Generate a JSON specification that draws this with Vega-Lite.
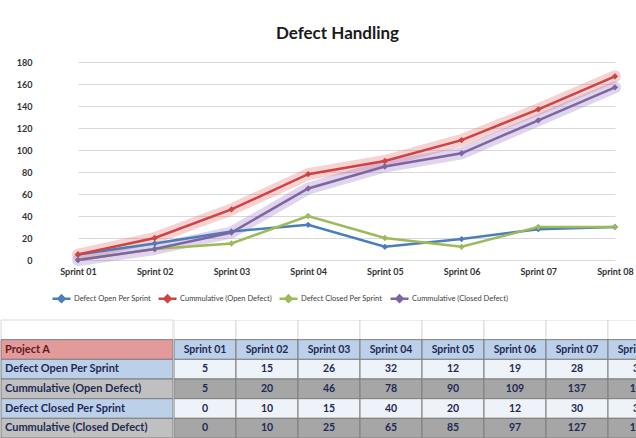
{
  "$schema": "https://vega.github.io/schema/vega-lite/v6.json",
  "padding": {"left": 0, "top": 25, "right": 0, "bottom": 0},
  "background": "white",
  "columns": 1,
  "align": "none",
  "spacing": 12,
  "config": {"view": {"stroke": null}, "font": "Lato"},
  "resolve": {"scale": {"x": "independent", "y": "independent", "color": "independent", "fill": "independent"}},
  "data": {"values": [
    {"sprint": "Sprint 01", "series": "Defect Open Per Sprint", "value": 5},
    {"sprint": "Sprint 02", "series": "Defect Open Per Sprint", "value": 15},
    {"sprint": "Sprint 03", "series": "Defect Open Per Sprint", "value": 26},
    {"sprint": "Sprint 04", "series": "Defect Open Per Sprint", "value": 32},
    {"sprint": "Sprint 05", "series": "Defect Open Per Sprint", "value": 12},
    {"sprint": "Sprint 06", "series": "Defect Open Per Sprint", "value": 19},
    {"sprint": "Sprint 07", "series": "Defect Open Per Sprint", "value": 28},
    {"sprint": "Sprint 08", "series": "Defect Open Per Sprint", "value": 30},
    {"sprint": "Sprint 01", "series": "Cummulative (Open Defect)", "value": 5},
    {"sprint": "Sprint 02", "series": "Cummulative (Open Defect)", "value": 20},
    {"sprint": "Sprint 03", "series": "Cummulative (Open Defect)", "value": 46},
    {"sprint": "Sprint 04", "series": "Cummulative (Open Defect)", "value": 78},
    {"sprint": "Sprint 05", "series": "Cummulative (Open Defect)", "value": 90},
    {"sprint": "Sprint 06", "series": "Cummulative (Open Defect)", "value": 109},
    {"sprint": "Sprint 07", "series": "Cummulative (Open Defect)", "value": 137},
    {"sprint": "Sprint 08", "series": "Cummulative (Open Defect)", "value": 167},
    {"sprint": "Sprint 01", "series": "Defect Closed Per Sprint", "value": 0},
    {"sprint": "Sprint 02", "series": "Defect Closed Per Sprint", "value": 10},
    {"sprint": "Sprint 03", "series": "Defect Closed Per Sprint", "value": 15},
    {"sprint": "Sprint 04", "series": "Defect Closed Per Sprint", "value": 40},
    {"sprint": "Sprint 05", "series": "Defect Closed Per Sprint", "value": 20},
    {"sprint": "Sprint 06", "series": "Defect Closed Per Sprint", "value": 12},
    {"sprint": "Sprint 07", "series": "Defect Closed Per Sprint", "value": 30},
    {"sprint": "Sprint 08", "series": "Defect Closed Per Sprint", "value": 30},
    {"sprint": "Sprint 01", "series": "Cummulative (Closed Defect)", "value": 0},
    {"sprint": "Sprint 02", "series": "Cummulative (Closed Defect)", "value": 10},
    {"sprint": "Sprint 03", "series": "Cummulative (Closed Defect)", "value": 25},
    {"sprint": "Sprint 04", "series": "Cummulative (Closed Defect)", "value": 65},
    {"sprint": "Sprint 05", "series": "Cummulative (Closed Defect)", "value": 85},
    {"sprint": "Sprint 06", "series": "Cummulative (Closed Defect)", "value": 97},
    {"sprint": "Sprint 07", "series": "Cummulative (Closed Defect)", "value": 127},
    {"sprint": "Sprint 08", "series": "Cummulative (Closed Defect)", "value": 157}
  ]},
  "concat": [
    {
      "width": 593,
      "height": 198,
      "title": {"text": "Defect Handling", "font": "Lato", "fontSize": 17, "fontWeight": "bold", "color": "#1a1a1a", "offset": 15, "anchor": "middle"},
      "encoding": {
        "x": {"field": "sprint", "type": "ordinal", "scale": {"type": "point", "range": [37, 574], "padding": 0},
              "axis": {"domain": false, "ticks": false, "grid": false, "labelFont": "Lato", "labelFontWeight": "bold", "labelFontSize": 9, "labelColor": "#333333", "labelPadding": 7, "labelAngle": 0, "title": null}},
        "y": {"field": "value", "type": "quantitative", "scale": {"domain": [0, 180]},
              "axis": {"values": [0, 20, 40, 60, 80, 100, 120, 140, 160, 180], "grid": true, "gridColor": "#d9d9d9", "domain": false, "ticks": false, "labelFont": "Lato", "labelFontWeight": "bold", "labelFontSize": 9, "labelColor": "#333333", "labelPadding": 9, "title": null, "minExtent": 40, "maxExtent": 40}}
      },
      "layer": [
        {"transform": [{"filter": "datum.series === 'Cummulative (Open Defect)'"}],
         "mark": {"type": "line", "color": "#e06a6a", "strokeWidth": 12, "opacity": 0.3, "strokeCap": "round", "strokeJoin": "round"}},
        {"transform": [{"filter": "datum.series === 'Cummulative (Closed Defect)'"}],
         "mark": {"type": "line", "color": "#9a7cc8", "strokeWidth": 12, "opacity": 0.32, "strokeCap": "round", "strokeJoin": "round"}},
        {"mark": {"type": "line", "strokeWidth": 2.5, "point": {"shape": "diamond", "size": 40, "filled": true}},
         "encoding": {"color": {"field": "series", "type": "nominal",
            "scale": {"domain": ["Defect Open Per Sprint", "Cummulative (Open Defect)", "Defect Closed Per Sprint", "Cummulative (Closed Defect)"],
                      "range": ["#4a7ebb", "#cc4444", "#9bbb59", "#8064a2"]},
            "legend": {"orient": "none", "legendX": 10, "legendY": 226, "direction": "horizontal", "title": null, "padding": 0,
                       "symbolType": "M-1,0L1,0M0,-0.35L0.35,0L0,0.35L-0.35,0Z", "symbolSize": 324, "symbolStrokeWidth": 2.5,
                       "labelFont": "Lato", "labelFontSize": 7.5, "labelColor": "#404040", "columnPadding": 2, "labelOffset": 2,
                       "encode": {"symbols": {"update": {"fill": {"scale": "color", "field": "value"}}}}}}}}
      ]
    },
    {
      "spacing": 0,
      "resolve": {"scale": {"x": "independent", "y": "independent", "fill": "independent"}},
      "hconcat": [
        {
          "width": 132,
          "height": 118,
          "layer": [
            {"transform": [{"filter": "datum.sprint === 'Sprint 01' && datum.series === 'Defect Open Per Sprint'"}],
             "mark": {"type": "rect", "fill": "white", "stroke": "#d9d9d9", "strokeWidth": 1},
             "encoding": {
               "x": {"datum": 0, "type": "quantitative", "scale": {"domain": [0, 1], "range": [-40, 132]}, "axis": null},
               "x2": {"datum": 1},
               "y": {"datum": "blank", "type": "nominal", "scale": {"domain": ["blank", "Project A", "Defect Open Per Sprint", "Cummulative (Open Defect)", "Defect Closed Per Sprint", "Cummulative (Closed Defect)"], "paddingInner": 0, "paddingOuter": 0}, "axis": null}}},
            {"transform": [{"filter": "datum.sprint === 'Sprint 01' && datum.series === 'Defect Open Per Sprint'"}],
             "mark": {"type": "rect", "fill": "#e39a9b", "stroke": "#7f7f7f", "strokeWidth": 1},
             "encoding": {
               "x": {"datum": 0, "type": "quantitative", "scale": {"domain": [0, 1], "range": [-40, 132]}, "axis": null},
               "x2": {"datum": 1},
               "y": {"datum": "Project A", "type": "nominal", "scale": {"domain": ["blank", "Project A", "Defect Open Per Sprint", "Cummulative (Open Defect)", "Defect Closed Per Sprint", "Cummulative (Closed Defect)"], "paddingInner": 0, "paddingOuter": 0}, "axis": null}}},
            {"transform": [{"filter": "datum.sprint === 'Sprint 01' && datum.series === 'Defect Open Per Sprint'"}],
             "mark": {"type": "text", "align": "left", "dx": 4, "font": "Lato", "fontWeight": "bold", "fontSize": 11, "color": "#5a1c1c", "text": "Project A"},
             "encoding": {
               "x": {"datum": 0, "type": "quantitative", "scale": {"domain": [0, 1], "range": [-40, 132]}, "axis": null},
               "y": {"datum": "Project A", "type": "nominal", "scale": {"domain": ["blank", "Project A", "Defect Open Per Sprint", "Cummulative (Open Defect)", "Defect Closed Per Sprint", "Cummulative (Closed Defect)"], "paddingInner": 0, "paddingOuter": 0}, "axis": null}}},
            {"transform": [{"filter": "datum.sprint === 'Sprint 01'"}],
             "mark": {"type": "rect", "stroke": "#7f7f7f", "strokeWidth": 1},
             "encoding": {
               "x": {"datum": 0, "type": "quantitative", "scale": {"domain": [0, 1], "range": [-40, 132]}, "axis": null},
               "x2": {"datum": 1},
               "y": {"field": "series", "type": "nominal", "scale": {"domain": ["blank", "Project A", "Defect Open Per Sprint", "Cummulative (Open Defect)", "Defect Closed Per Sprint", "Cummulative (Closed Defect)"], "paddingInner": 0, "paddingOuter": 0}, "axis": null},
               "fill": {"field": "series", "type": "nominal", "scale": {"domain": ["Defect Open Per Sprint", "Cummulative (Open Defect)", "Defect Closed Per Sprint", "Cummulative (Closed Defect)"], "range": ["#bdd0ea", "#c0c0c0", "#bdd0ea", "#c0c0c0"]}, "legend": null}}},
            {"transform": [{"filter": "datum.sprint === 'Sprint 01'"}],
             "mark": {"type": "text", "align": "left", "dx": 4, "font": "Lato", "fontWeight": "bold", "fontSize": 11, "color": "#1f2a55"},
             "encoding": {
               "x": {"datum": 0, "type": "quantitative", "scale": {"domain": [0, 1], "range": [-40, 132]}, "axis": null},
               "y": {"field": "series", "type": "nominal", "scale": {"domain": ["blank", "Project A", "Defect Open Per Sprint", "Cummulative (Open Defect)", "Defect Closed Per Sprint", "Cummulative (Closed Defect)"], "paddingInner": 0, "paddingOuter": 0}, "axis": null},
               "text": {"field": "series"}}}
          ]
        },
        {
          "width": 464,
          "height": 118,
          "layer": [
            {"transform": [{"filter": "datum.series === 'Defect Open Per Sprint'"}],
             "mark": {"type": "rect", "fill": "white", "stroke": "#d9d9d9", "strokeWidth": 1, "clip": true},
             "encoding": {
               "x": {"field": "sprint", "type": "ordinal", "scale": {"type": "band", "range": [0, 496], "paddingInner": 0, "paddingOuter": 0}, "axis": null},
               "y": {"datum": "blank", "type": "nominal", "scale": {"domain": ["blank", "Project A", "Defect Open Per Sprint", "Cummulative (Open Defect)", "Defect Closed Per Sprint", "Cummulative (Closed Defect)"], "paddingInner": 0, "paddingOuter": 0}, "axis": null}}},
            {"transform": [{"filter": "datum.series === 'Defect Open Per Sprint'"}],
             "mark": {"type": "rect", "fill": "#bdd0ea", "stroke": "#7f7f7f", "strokeWidth": 1, "clip": true},
             "encoding": {
               "x": {"field": "sprint", "type": "ordinal", "scale": {"type": "band", "range": [0, 496], "paddingInner": 0, "paddingOuter": 0}, "axis": null},
               "y": {"datum": "Project A", "type": "nominal", "scale": {"domain": ["blank", "Project A", "Defect Open Per Sprint", "Cummulative (Open Defect)", "Defect Closed Per Sprint", "Cummulative (Closed Defect)"], "paddingInner": 0, "paddingOuter": 0}, "axis": null}}},
            {"transform": [{"filter": "datum.series === 'Defect Open Per Sprint'"}],
             "mark": {"type": "text", "font": "Lato", "fontWeight": "bold", "fontSize": 10.5, "color": "#1f2a55", "clip": true},
             "encoding": {
               "x": {"field": "sprint", "type": "ordinal", "scale": {"type": "band", "range": [0, 496], "paddingInner": 0, "paddingOuter": 0}, "axis": null},
               "y": {"datum": "Project A", "type": "nominal", "scale": {"domain": ["blank", "Project A", "Defect Open Per Sprint", "Cummulative (Open Defect)", "Defect Closed Per Sprint", "Cummulative (Closed Defect)"], "paddingInner": 0, "paddingOuter": 0}, "axis": null},
               "text": {"field": "sprint"}}},
            {"mark": {"type": "rect", "stroke": "#7f7f7f", "strokeWidth": 1, "clip": true},
             "encoding": {
               "x": {"field": "sprint", "type": "ordinal", "scale": {"type": "band", "range": [0, 496], "paddingInner": 0, "paddingOuter": 0}, "axis": null},
               "y": {"field": "series", "type": "nominal", "scale": {"domain": ["blank", "Project A", "Defect Open Per Sprint", "Cummulative (Open Defect)", "Defect Closed Per Sprint", "Cummulative (Closed Defect)"], "paddingInner": 0, "paddingOuter": 0}, "axis": null},
               "fill": {"field": "series", "type": "nominal", "scale": {"domain": ["Defect Open Per Sprint", "Cummulative (Open Defect)", "Defect Closed Per Sprint", "Cummulative (Closed Defect)"], "range": ["#eef2f9", "#a6a6a6", "#eef2f9", "#a6a6a6"]}, "legend": null}}},
            {"mark": {"type": "text", "font": "Lato", "fontWeight": "bold", "fontSize": 10.5, "color": "#1f2a55", "clip": true},
             "encoding": {
               "x": {"field": "sprint", "type": "ordinal", "scale": {"type": "band", "range": [0, 496], "paddingInner": 0, "paddingOuter": 0}, "axis": null},
               "y": {"field": "series", "type": "nominal", "scale": {"domain": ["blank", "Project A", "Defect Open Per Sprint", "Cummulative (Open Defect)", "Defect Closed Per Sprint", "Cummulative (Closed Defect)"], "paddingInner": 0, "paddingOuter": 0}, "axis": null},
               "text": {"field": "value", "type": "quantitative"}}}
          ]
        }
      ]
    }
  ]
}
